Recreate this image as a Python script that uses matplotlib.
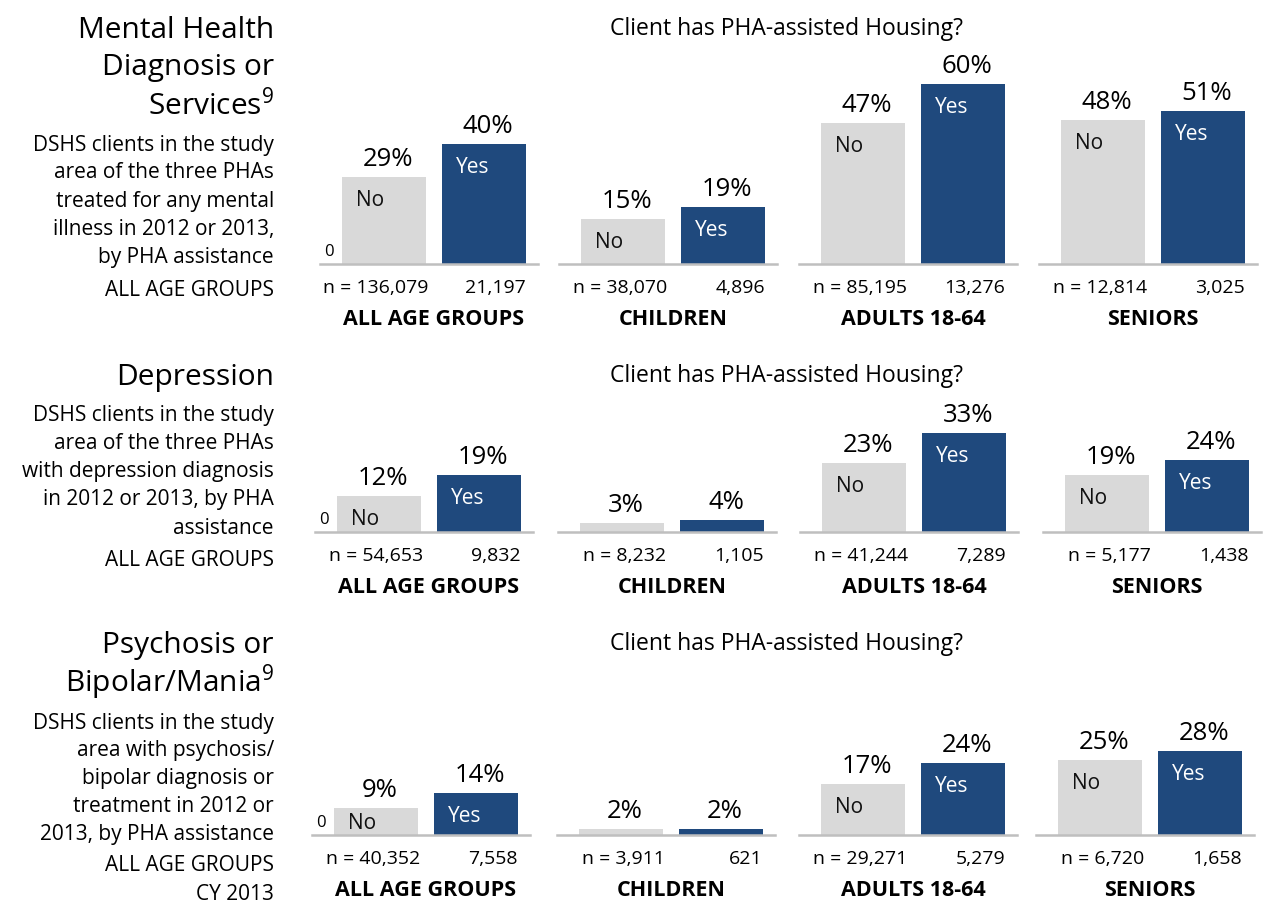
import matplotlib.pyplot as plt

plt.rcParams['font.family'] = ['Open Sans', 'DejaVu Sans']
plt.rcParams['mathtext.fontset'] = 'custom'
plt.rcParams['mathtext.rm'] = 'Open Sans'

W, H = 1264, 903

groups = ['ALL AGE GROUPS', 'CHILDREN', 'ADULTS 18-64', 'SENIORS']

# % of clients, No / Yes PHA assistance
mh_no = [29, 15, 47, 48]
mh_yes = [40, 19, 60, 51]
mh_n_no = [136079, 38070, 85195, 12814]
mh_n_yes = [21197, 4896, 13276, 3025]

dep_no = [12, 3, 23, 19]
dep_yes = [19, 4, 33, 24]
dep_n_no = [54653, 8232, 41244, 5177]
dep_n_yes = [9832, 1105, 7289, 1438]

psy_no = [9, 2, 17, 25]
psy_yes = [14, 2, 24, 28]
psy_n_no = [40352, 3911, 29271, 6720]
psy_n_yes = [7558, 621, 5279, 1658]

rows = [(mh_no, mh_yes, mh_n_no, mh_n_yes),
        (dep_no, dep_yes, dep_n_no, dep_n_yes),
        (psy_no, psy_yes, psy_n_no, psy_n_yes)]

NO_COL = '#d9d9d9'
YES_COL = '#1f497d'

fig = plt.figure(figsize=(W / 100, H / 100), dpi=100)

# layout (pixels)
base_px = [265, 533, 836]
left_px = [[342, 581, 821, 1061],
           [337, 580, 822, 1065],
           [334, 579, 821, 1058]]
question_px = [29, 376, 644]

for r, (no, yes, n_no, n_yes) in enumerate(rows):
    fig.text(787 / W, 1 - question_px[r] / H, 'Client has PHA-assisted Housing?',
             ha='center', va='center', fontsize=16.5)
    for c in range(4):
        left = left_px[r][c] - 22
        ax = fig.add_axes([left / W, 1 - base_px[r] / H, 218 / W, 210 / H])
        ax.set_xlim(-0.64, 1.54)
        ax.set_ylim(0, 70)
        vals = [no[c], yes[c]]
        ax.bar([0, 1], vals, width=0.84, color=[NO_COL, YES_COL])
        ax.axhline(0, color='#bfbfbf', lw=1.8, clip_on=False)
        ax.axis('off')
        for i, v in enumerate(vals):
            ax.annotate(f'{v}%', (i + 0.04, v), xytext=(0, 8.6), textcoords='offset points',
                        ha='center', va='baseline', fontsize=18.5)
            if v >= 5:
                ax.text(i - 0.28, max(v - 7.5, 4), ['No', 'Yes'][i], ha='left', va='center',
                        fontsize=15, color=['#111111', 'white'][i])
        ax.annotate(f'n = {n_no[c]:,}', (0.44, 0), xytext=(0, -16.5), textcoords='offset points',
                    ha='right', va='center', fontsize=14)
        ax.annotate(f'{n_yes[c]:,}', (1.42, 0), xytext=(0, -16.5), textcoords='offset points',
                    ha='right', va='center', fontsize=14)
        ax.annotate(groups[c], (0.5, 0), xytext=(0, -39.5), textcoords='offset points',
                    ha='center', va='center', fontsize=15.5, fontweight='bold')
        if c == 0:
            ax.annotate('0', (-0.64, 0), xytext=(6.5, 9), textcoords='offset points',
                        ha='center', va='center', fontsize=12)


def block(lines, y0, step, size):
    for i, s in enumerate(lines):
        fig.text(274 / W, 1 - (y0 + i * step) / H, s, ha='right', va='center', fontsize=size)


block(['Mental Health', 'Diagnosis or', 'Services$^{9}$'], 30, 38, 21.5)
block(['DSHS clients in the study', 'area of the three PHAs', 'treated for any mental',
       'illness in 2012 or 2013,', 'by PHA assistance'], 145, 28, 15)
block(['ALL AGE GROUPS'], 291, 28, 15)

block(['Depression'], 377, 38, 21.5)
block(['DSHS clients in the study', 'area of the three PHAs', 'with depression diagnosis',
       'in 2012 or 2013, by PHA', 'assistance'], 416, 28, 15)
block(['ALL AGE GROUPS'], 560, 28, 15)

block(['Psychosis or', 'Bipolar/Mania$^{9}$'], 645, 38, 21.5)
block(['DSHS clients in the study', 'area with psychosis/', 'bipolar diagnosis or',
       'treatment in 2012 or', '2013, by PHA assistance'], 723, 28, 15)
block(['ALL AGE GROUPS', 'CY 2013'], 866, 29, 15)

fig.savefig('out.png', dpi=100)
